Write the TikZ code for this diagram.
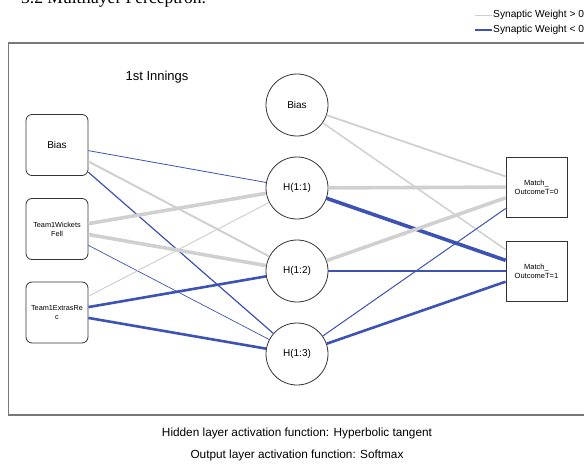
\documentclass[tikz,border=0pt]{standalone}
\usepackage{fontspec}
\setmainfont{Liberation Sans}
\newfontfamily\serifT{Liberation Serif}
\definecolor{posw}{RGB}{208,208,208}
\definecolor{negw}{RGB}{60,82,180}
\definecolor{framec}{RGB}{120,120,120}
\begin{document}
\begin{tikzpicture}[x=1pt,y=-1pt,
  inbox/.style={draw=black!80, line width=0.8pt, rounded corners=6pt, fill=white,
    minimum width=62pt, minimum height=61pt, inner sep=1pt, align=center},
  hid/.style={draw=black!80, line width=0.8pt, circle, fill=white, minimum size=62pt,
    inner sep=0pt, font=\fontsize{10}{12}\selectfont},
  outbox/.style={draw=black!80, line width=0.8pt, fill=white,
    minimum width=61pt, minimum height=60pt, inner sep=1pt, align=center,
    font=\fontsize{7.5}{9}\selectfont},
  pos/.style={draw=posw, line width=#1},
  neg/.style={draw=negw, line width=#1},
  lbl/.style={inner sep=0pt}
]
\useasboundingbox (0,0) rectangle (584,474);
\begin{scope}
\clip (0,0) rectangle (584,474);
\node[lbl, anchor=base west, font=\serifT\fontsize{17.5}{21}\selectfont] (title) at (21,3.5) {3.2 Multilayer Perceptron.};
\end{scope}

% legend
\coordinate (lg1a) at (475,15); \coordinate (lg1b) at (492,15);
\coordinate (lg2a) at (475,30); \coordinate (lg2b) at (492,30);
\draw[pos=0.9pt] (lg1a) -- (lg1b);
\draw[neg=1.2pt] (lg2a) -- (lg2b);
\node[lbl, anchor=west, font=\fontsize{10.2}{11}\selectfont] (leg1) at (493,15) {Synaptic Weight > 0};
\node[lbl, anchor=west, font=\fontsize{10.2}{11}\selectfont] (leg2) at (493,30) {Synaptic Weight < 0};

% frame
\draw[framec, line width=2pt] (8,43) -- (590,43);
\draw[framec, line width=1pt] (8,42) -- (8,415.5);
\draw[framec, line width=1.5pt] (7.5,415) -- (590,415);

\node[lbl, font=\fontsize{13}{15}\selectfont] (inn) at (157,77) {1st Innings};

% input layer
\node[inbox, font=\fontsize{10}{12}\selectfont] (ib) at (57,145) {Bias};
\node[inbox, font=\fontsize{7.3}{9}\selectfont] (iw) at (57,229) {Team1Wickets\\Fell};
\node[inbox, font=\fontsize{7.3}{9}\selectfont] (ie) at (57,312.5) {Team1ExtrasRe\\c};

% hidden layer
\node[hid] (hb) at (297,105) {Bias};
\node[hid] (h1) at (297,188) {H(1:1)};
\node[hid] (h2) at (297,271) {H(1:2)};
\node[hid] (h3) at (297,354) {H(1:3)};

% output layer
\node[outbox] (o0) at (536.5,187) {Match\_\\OutcomeT=0};
\node[outbox] (o1) at (536.5,271) {Match\_\\OutcomeT=1};

% input -> hidden
\draw[neg=0.8pt] (ib) -- (h1);
\draw[pos=2pt] (ib) -- (h2);
\draw[neg=1.2pt] (ib) -- (h3);
\draw[pos=3.6pt] (iw) -- (h1);
\draw[pos=3.6pt] (iw) -- (h2);
\draw[neg=0.7pt] (iw) -- (h3);
\draw[pos=1pt] (ie) -- (h1);
\draw[neg=2.6pt] (ie) -- (h2);
\draw[neg=2.6pt] (ie) -- (h3);

% hidden -> output
\draw[pos=1.8pt] (hb) -- (o0);
\draw[pos=1.5pt] (hb) -- (o1);
\draw[pos=3.6pt] (h1) -- (o0);
\draw[neg=3.6pt] (h1) -- (o1);
\draw[pos=3.6pt] (h2) -- (o0);
\draw[neg=1.2pt] (h2) -- (o1);
\draw[neg=1pt] (h3) -- (o0);
\draw[neg=2.6pt] (h3) -- (o1);

% captions
\node[lbl, font=\fontsize{11.8}{13}\selectfont] (cap1) at (297,433) {Hidden layer activation function: Hyperbolic tangent};
\node[lbl, font=\fontsize{11.8}{13}\selectfont] (cap2) at (297,455) {Output layer activation function: Softmax};
\end{tikzpicture}
\end{document}
